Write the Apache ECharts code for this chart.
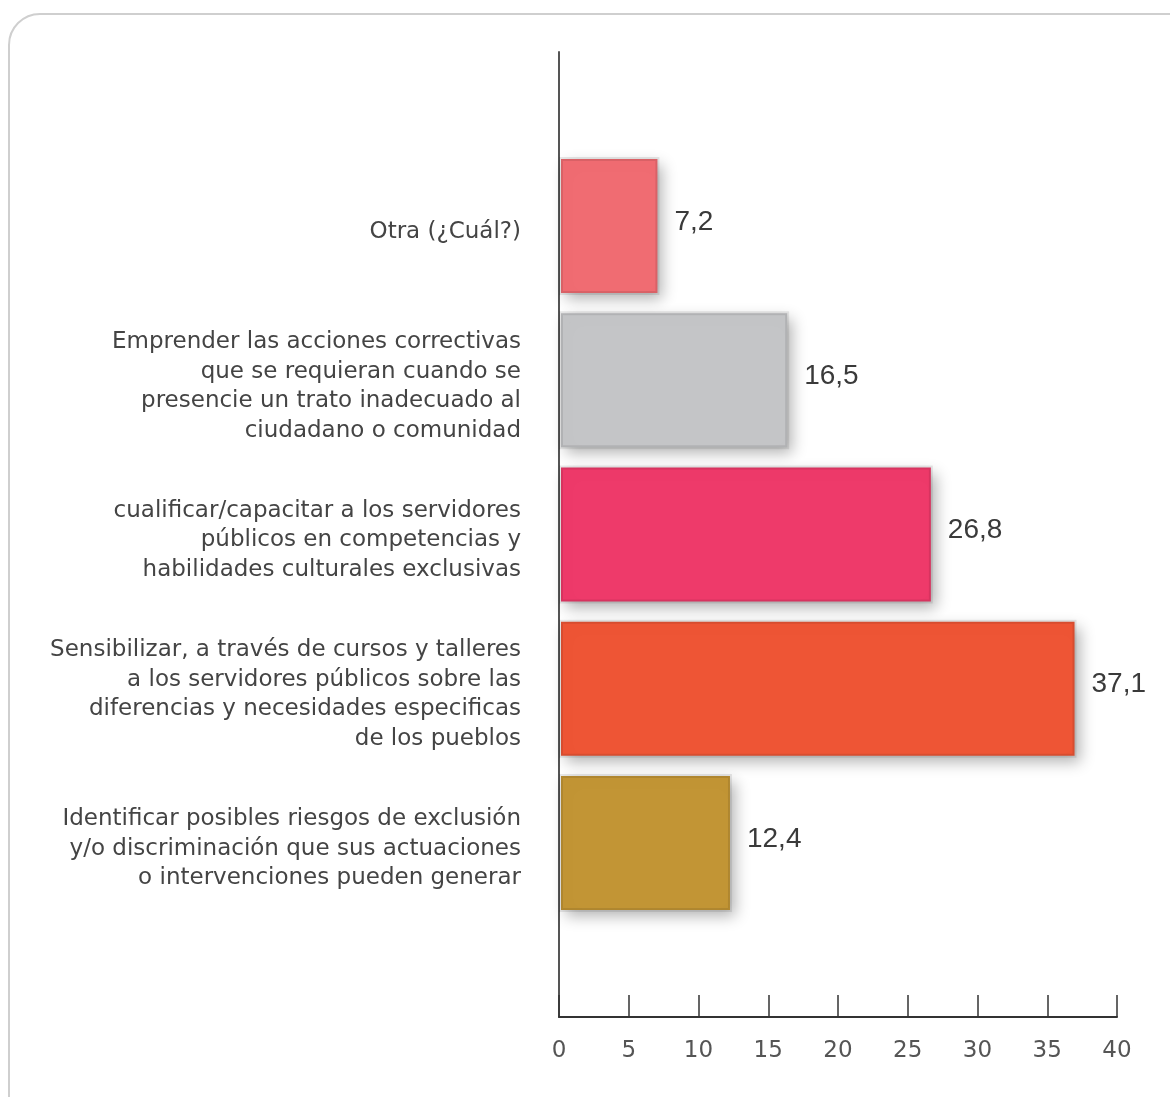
<!DOCTYPE html>
<html>
<head>
<meta charset="utf-8">
<script src="https://cdn.jsdelivr.net/npm/echarts@6/dist/echarts.min.js"></script>
<style>
  html, body { margin: 0; padding: 0; background: #fff; }
  #frame { position: absolute; left: 8px; top: 13px; width: 1200px; height: 1120px;
           border: 2px solid #cfcfcf; border-radius: 32px; box-sizing: border-box; }
  #chart { position: absolute; left: 0; top: 0; width: 1170px; height: 1097px; }
</style>
</head>
<body>
<div id="frame"></div>
<div id="chart"></div>
<script>
// Categories listed from top to bottom
const categories = [
  'Otra (¿Cuál?)',
  'Emprender las acciones correctivas\nque se requieran cuando se\npresencie un trato inadecuado al\nciudadano o comunidad',
  'cualificar/capacitar a los servidores\npúblicos en competencias y\nhabilidades culturales exclusivas',
  'Sensibilizar, a través de cursos y talleres\na los servidores públicos sobre las\ndiferencias y necesidades especificas\nde los pueblos',
  'Identificar posibles riesgos de exclusión\ny/o discriminación que sus actuaciones\no intervenciones pueden generar'
];
const values = [7.2, 16.5, 26.8, 37.1, 12.4];
const barColors = ['#F06C72', '#C4C5C7', '#EE3A6A', '#EE5535', '#C29535'];
const xTicks = { min: 0, max: 40, interval: 5 };

const textFont = '"DejaVu Sans", Verdana, sans-serif';

const chart = echarts.init(document.getElementById('chart'), null, { renderer: 'canvas' });

chart.setOption({
  animation: false,
  grid: [
    { left: 559, right: 53, top: 149, height: 771 },
    { left: 559, right: 53, top: 52, bottom: 80 }
  ],
  xAxis: [
    { gridIndex: 0, type: 'value', min: xTicks.min, max: xTicks.max, interval: xTicks.interval, show: false },
    {
      gridIndex: 1, type: 'value', min: xTicks.min, max: xTicks.max, interval: xTicks.interval,
      axisLine: { show: true, lineStyle: { color: '#333', width: 2 } },
      axisTick: { show: true, inside: true, length: 22, lineStyle: { color: '#333', width: 1.5 } },
      axisLabel: { color: '#555', fontSize: 23, fontFamily: textFont, margin: 23 },
      splitLine: { show: false }
    }
  ],
  yAxis: [
    {
      gridIndex: 0, type: 'category', data: categories, inverse: true,
      axisLine: { show: false }, axisTick: { show: false },
      axisLabel: {
        color: '#444', fontSize: 23, fontFamily: textFont, lineHeight: 29.5,
        align: 'right', margin: 38,
        formatter: v => '{t|' + v.split('\n').join('}\n{t|') + '}',
        rich: { t: { color: '#444', fontSize: 23, fontFamily: textFont, lineHeight: 29.5, padding: [12, 0, 0, 0] } }
      }
    },
    {
      gridIndex: 1, type: 'value', min: 0, max: 1,
      axisLine: { show: true, lineStyle: { color: '#555', width: 2 } },
      axisTick: { show: false }, axisLabel: { show: false }, splitLine: { show: false }
    }
  ],
  series: [{
    type: 'bar',
    xAxisIndex: 0, yAxisIndex: 0,
    barWidth: 138,
    z: 5,
    data: values.map((v, i) => ({
      value: v,
      itemStyle: {
        color: barColors[i],
        borderColor: 'rgba(0,0,0,0.09)',
        borderWidth: 4,
        shadowColor: 'rgba(0,0,0,0.3)',
        shadowBlur: 14,
        shadowOffsetX: 5,
        shadowOffsetY: 6
      }
    })),
    label: {
      show: true,
      position: 'right',
      distance: 15,
      offset: [0, -4],
      color: '#3a3a3a',
      fontSize: 28,
      fontFamily: '"Liberation Sans", Arial, sans-serif',
      formatter: p => String(p.value).replace('.', ',')
    }
  }]
});
</script>
</body>
</html>
